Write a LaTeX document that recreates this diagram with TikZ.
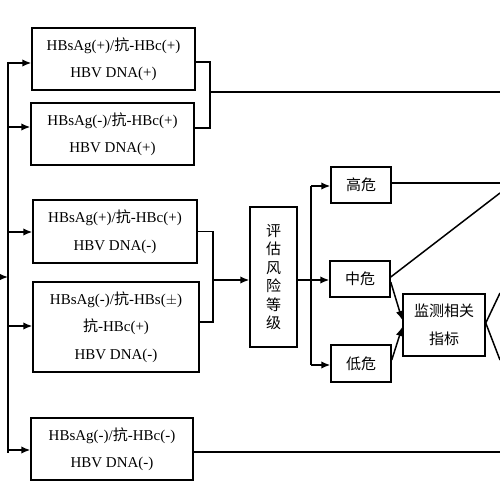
\documentclass[tikz,border=0pt]{standalone}
\usepackage{fontspec}
\setmainfont{Liberation Serif}
\newfontfamily\cjk{Noto Sans CJK SC}
\usetikzlibrary{arrows.meta}
\newcommand{\kang}{{\cjk 抗}}

\begin{document}
\begin{tikzpicture}[x=1pt,y=1pt,line width=1.5pt,>={Latex[length=9pt,width=7.5pt]}]
\tikzstyle{every node}+=[inner sep=0pt]
\tikzstyle{box}=[draw,align=center,font=\fontsize{15}{27.5}\selectfont]
\tikzstyle{cbox}=[box,font=\cjk\fontsize{15}{28}\selectfont]
\useasboundingbox (0,0) rectangle (500,-500);
% marker groups
\node [box,minimum width=163pt,minimum height=62pt] (m1) at (113.5,-59) {HBsAg(+)/\kang-HBc(+)\\HBV DNA(+)};
\node [box,minimum width=163pt,minimum height=62pt] (m2) at (112.5,-134) {HBsAg(-)/\kang-HBc(+)\\HBV DNA(+)};
\node [box,minimum width=164pt,minimum height=63pt] (m3) at (115,-231.5) {HBsAg(+)/\kang-HBc(+)\\HBV DNA(-)};
\node [box,minimum width=166pt,minimum height=90pt] (m4) at (116,-327) {HBsAg(-)/\kang-HBs($\pm$)\\\kang-HBc(+)\\HBV DNA(-)};
\node [box,minimum width=162pt,minimum height=62pt] (m5) at (112,-449) {HBsAg(-)/\kang-HBc(-)\\HBV DNA(-)};
% risk levels
\node [cbox,font=\cjk\fontsize{15}{18.5}\selectfont,minimum width=47pt,minimum height=140pt] (risk) at (273.5,-277) {评\\估\\风\\险\\等\\级};
\node [cbox,minimum width=60pt,minimum height=36pt] (high) at (361,-185) {高危};
\node [cbox,minimum width=60pt,minimum height=36pt] (mid) at (360,-279) {中危};
\node [cbox,minimum width=60pt,minimum height=37pt] (low) at (361,-363.5) {低危};
\node [cbox,minimum width=82pt,minimum height=62pt] (watch) at (444,-325) {监测相关\\指标};
% left trunk
\coordinate (in) at (0,-277);
\coordinate (tTop) at (8,-62);
\coordinate (tBot) at (8,-453);
\draw (tTop) -- (tBot);
\draw [->] (in) -- (in -| tTop);
\foreach \n/\y in {m1/63,m2/127,m3/232,m4/326,m5/450} {
  \coordinate (b\n) at (8,-\y);
  \draw [->] (b\n) -- (b\n -| \n.west);
}
% brackets
\coordinate (k1) at (210,-92);
\coordinate (k2) at (213,-280);
\draw ([yshift=-3pt]m1.east) -| (k1) |- ([yshift=6pt]m2.east);
\draw (m3.east) -| (k2) |- ([yshift=5pt]m4.east);
\draw [->] (k2) -- (k2 -| risk.west);
% risk trunk
\coordinate (k3) at (311,-280);
\coordinate (k4) at (311,-186);
\coordinate (k5) at (311,-365);
\draw (k3 -| risk.east) -- (k3);
\draw (k4) -- (k5);
\draw [->] (k4) -- (k4 -| high.west);
\draw [->] (k3) -- (k3 -| mid.west);
\draw [->] (k5) -- (k5 -| low.west);
% going off the right side
\coordinate (o1) at (500,-92);
\coordinate (o2) at (500,-183);
\coordinate (o3) at (500,-193);
\coordinate (o4) at (500,-293);
\coordinate (o5) at (500,-360);
\coordinate (o6) at (500,-452);
\draw (k1) -- (o1);
\draw ([yshift=2pt]high.east) -- (o2);
\draw ([yshift=2pt]mid.east) -- (o3);
\draw [->] ([yshift=-3pt]mid.east) -- ([yshift=5pt]watch.west);
\draw [->] ([yshift=3.5pt]low.east) -- ([yshift=-2pt]watch.west);
\draw (o4) -- ([yshift=2pt]watch.east) -- (o5);
\draw ([yshift=-3pt]m5.east) -- (o6);
\end{tikzpicture}
\end{document}
